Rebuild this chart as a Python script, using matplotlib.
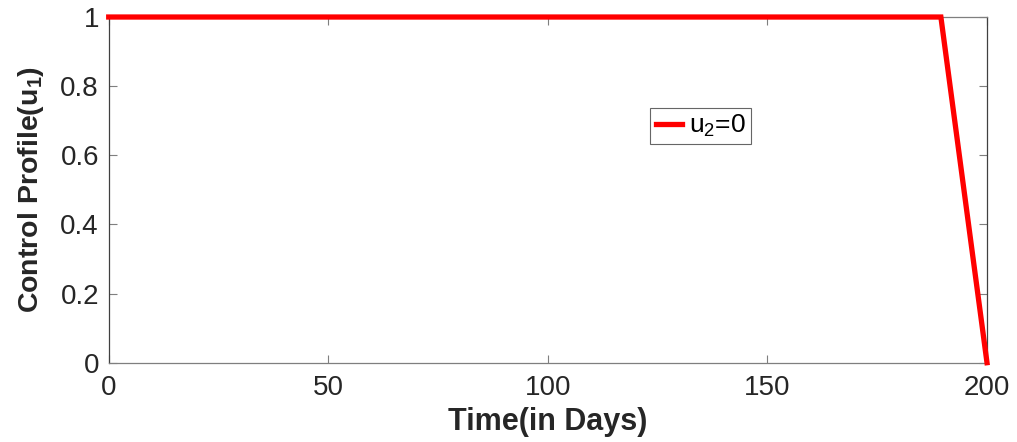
import matplotlib
matplotlib.use("Agg")
import matplotlib.pyplot as plt

# Data
time_days = [0, 189.5, 200]
u1_values = [1.0, 1.0, 0.0]
series_label = r"u$_2$=0"
x_ticks = [0, 50, 100, 150, 200]
y_ticks = [0, 0.2, 0.4, 0.6, 0.8, 1]
y_tick_labels = ["0", "0.2", "0.4", "0.6", "0.8", "1"]

plt.rcParams['font.family'] = ['Liberation Sans', 'DejaVu Sans']
plt.rcParams['mathtext.fontset'] = 'custom'
plt.rcParams['mathtext.rm'] = 'Liberation Sans'
plt.rcParams['mathtext.it'] = 'Liberation Sans'
plt.rcParams['mathtext.bf'] = 'Liberation Sans:bold'

fig = plt.figure(figsize=(10.17, 4.42), dpi=100)
ax = fig.add_axes([0.1069, 0.1794, 0.8636, 0.7821])

ax.plot(time_days, u1_values, color='#ff0000', lw=3.8, label=series_label,
        solid_joinstyle='miter', clip_on=False, zorder=3)

ax.set_xlim(0, 200)
ax.set_ylim(0, 1)
ax.set_xticks(x_ticks)
ax.set_yticks(y_ticks)
ax.set_yticklabels(y_tick_labels)

txt = '#262626'
for s in ax.spines.values():
    s.set_color('#404040')
    s.set_linewidth(0.9)
ax.spines['bottom'].set_color('#7f7f7f')
ax.spines['top'].set_color('#7f7f7f')
ax.tick_params(direction='in', length=6, width=0.8, colors='#7f7f7f',
               labelcolor=txt, labelsize=20, top=True, right=True)
ax.tick_params(axis='x', pad=9)
ax.tick_params(axis='y', pad=7)

ax.set_xlabel('Time(in Days)', fontsize=22, fontweight='bold', color=txt, labelpad=4)
ax.set_ylabel(r'Control Profile(u$_\mathbf{1}$)', fontsize=20.5, fontweight='bold', color=txt, labelpad=10)

leg = ax.legend(loc='center', bbox_to_anchor=(0.674, 0.685), fontsize=19,
                frameon=True, fancybox=False, handlelength=1.0, handletextpad=0.25,
                borderpad=0.2, borderaxespad=0)
leg.get_frame().set_edgecolor('#404040')
leg.get_frame().set_linewidth(0.8)
for t in leg.get_texts():
    t.set_color('black')

fig.savefig('out.png', dpi=100)
